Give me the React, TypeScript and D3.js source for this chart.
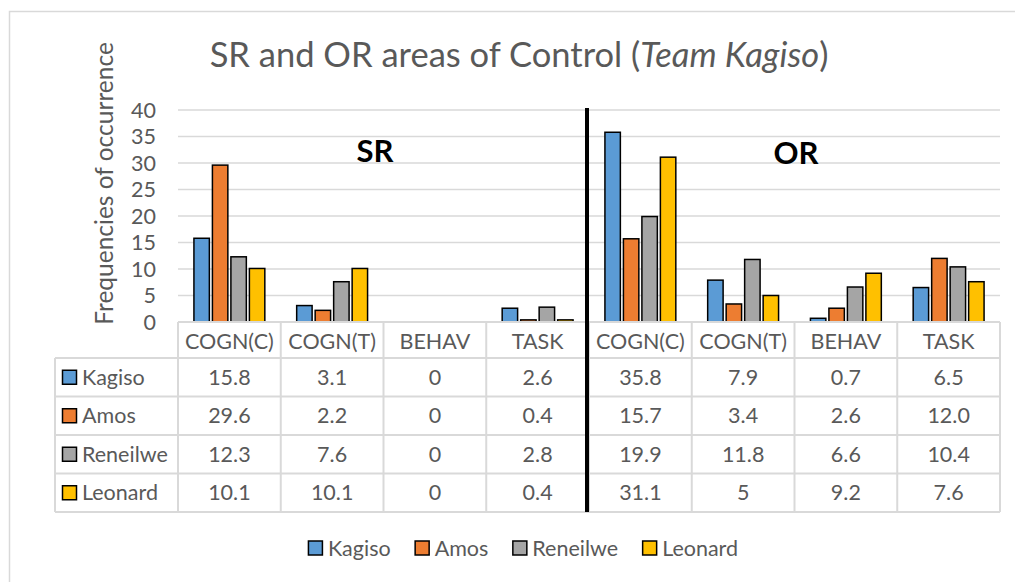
import React, { useEffect, useRef } from "react";
import * as d3 from "d3";

const categories = ["COGN(C)", "COGN(T)", "BEHAV", "TASK", "COGN(C)", "COGN(T)", "BEHAV", "TASK"];
const seriesNames = ["Kagiso", "Amos", "Reneilwe", "Leonard"];
const kagiso = [15.8, 3.1, 0, 2.6, 35.8, 7.9, 0.7, 6.5];
const amos = [29.6, 2.2, 0, 0.4, 15.7, 3.4, 2.6, 12.0];
const reneilwe = [12.3, 7.6, 0, 2.8, 19.9, 11.8, 6.6, 10.4];
const leonard = [10.1, 10.1, 0, 0.4, 31.1, 5, 9.2, 7.6];
const kagisoText = ["15.8", "3.1", "0", "2.6", "35.8", "7.9", "0.7", "6.5"];
const amosText = ["29.6", "2.2", "0", "0.4", "15.7", "3.4", "2.6", "12.0"];
const reneilweText = ["12.3", "7.6", "0", "2.8", "19.9", "11.8", "6.6", "10.4"];
const leonardText = ["10.1", "10.1", "0", "0.4", "31.1", "5", "9.2", "7.6"];
const yTicks = [0, 5, 10, 15, 20, 25, 30, 35, 40];
const colors = ["#5B9BD5", "#ED7D31", "#A5A5A5", "#FFC000"];

const FONT = "Lato, 'Open Sans', sans-serif";
const TXT = "#595959";
const GRID = "#d9d9d9";

export default function App() {
  const ref = useRef<SVGSVGElement>(null);

  useEffect(() => {
    const svg = d3.select(ref.current);
    svg.selectAll("*").remove();
    const values = [kagiso, amos, reneilwe, leonard];
    const texts = [kagisoText, amosText, reneilweText, leonardText];

    const left = 178, right = 1000, top = 110, bottom = 322;
    const x0 = d3.scaleBand<number>().domain(d3.range(categories.length)).range([left, right]);
    const bw = x0.bandwidth();
    const x1 = d3.scaleBand<number>().domain(d3.range(seriesNames.length)).range([bw * 0.155, bw * 0.845]).paddingInner(0.165);
    const y = d3.scaleLinear().domain([0, 40]).range([bottom, top]);

    // outer border
    svg.append("rect").attr("x", 9.5).attr("y", 11.5).attr("width", 1015).attr("height", 600)
      .attr("fill", "white").attr("stroke", GRID).attr("stroke-width", 1.5);

    // title
    const title = svg.append("text").attr("x", 519).attr("y", 67).attr("text-anchor", "middle")
      .attr("font-family", FONT).attr("font-size", 34.5).attr("fill", TXT);
    title.append("tspan").text("SR and OR areas of Control (");
    title.append("tspan").attr("font-style", "italic").text("Team Kagiso");
    title.append("tspan").text(")");

    // y axis label
    svg.append("text").attr("transform", `translate(113,${(325 + 42) / 2}) rotate(-90)`)
      .attr("text-anchor", "middle").attr("font-family", FONT).attr("font-size", 24.5).attr("fill", TXT)
      .text("Frequencies of occurrence");

    // gridlines
    svg.append("g").selectAll("line").data(yTicks.filter(t => t > 0)).join("line")
      .attr("x1", left).attr("x2", right).attr("y1", d => y(d)).attr("y2", d => y(d))
      .attr("stroke", GRID).attr("stroke-width", 1.6);

    // y tick labels
    svg.append("g").selectAll("text").data(yTicks).join("text")
      .attr("x", 156).attr("y", d => y(d)).attr("dy", "0.36em").attr("text-anchor", "end")
      .attr("font-family", FONT).attr("font-size", 21.5).attr("fill", TXT).text(d => String(d));

    // bars
    const gBars = svg.append("g");
    values.forEach((arr, s) => {
      gBars.append("g").selectAll("rect").data(arr.map((v, i) => ({ v, i }))).join("rect")
        .filter(d => d.v > 0)
        .attr("x", d => x0(d.i)! + x1(s)!)
        .attr("y", d => y(d.v))
        .attr("width", x1.bandwidth())
        .attr("height", d => y(0) - y(d.v))
        .attr("fill", colors[s]).attr("stroke", "#000").attr("stroke-width", 1.5);
    });

    // table
    const headerH = 36, rowH = 38.5;
    const tableLeft = 55;
    const rowsTop = bottom + headerH;
    const tableBottom = rowsTop + rowH * seriesNames.length;
    const gT = svg.append("g");
    gT.append("line").attr("x1", left).attr("x2", right).attr("y1", bottom).attr("y2", bottom)
      .attr("stroke", GRID).attr("stroke-width", 2);
    d3.range(seriesNames.length + 1).forEach(r => {
      gT.append("line").attr("x1", tableLeft).attr("x2", right)
        .attr("y1", rowsTop + r * rowH).attr("y2", rowsTop + r * rowH)
        .attr("stroke", GRID).attr("stroke-width", 2);
    });
    gT.append("line").attr("x1", tableLeft).attr("x2", tableLeft).attr("y1", rowsTop).attr("y2", tableBottom)
      .attr("stroke", GRID).attr("stroke-width", 2);
    d3.range(categories.length + 1).forEach(c => {
      const xx = c < categories.length ? x0(c)! : right;
      gT.append("line").attr("x1", xx).attr("x2", xx).attr("y1", bottom).attr("y2", tableBottom)
        .attr("stroke", GRID).attr("stroke-width", 2);
    });
    gT.append("g").selectAll("text").data(categories).join("text")
      .attr("x", (d, i) => x0(i)! + bw / 2).attr("y", bottom + headerH / 2 + 1).attr("dy", "0.36em")
      .attr("text-anchor", "middle").attr("font-family", FONT).attr("font-size", 21.5).attr("fill", TXT)
      .text(d => d);
    seriesNames.forEach((name, s) => {
      const cy = rowsTop + rowH * s + rowH / 2;
      gT.append("rect").attr("x", 62.5).attr("y", cy - 7).attr("width", 14).attr("height", 14)
        .attr("fill", colors[s]).attr("stroke", "#000").attr("stroke-width", 1.5);
      gT.append("text").attr("x", 82).attr("y", cy).attr("dy", "0.36em")
        .attr("font-family", FONT).attr("font-size", 21.5).attr("fill", TXT).text(name);
      gT.append("g").selectAll("text").data(texts[s]).join("text")
        .attr("x", (d, i) => x0(i)! + bw / 2).attr("y", cy).attr("dy", "0.36em")
        .attr("text-anchor", "middle").attr("font-family", FONT).attr("font-size", 21.5).attr("fill", TXT)
        .text(d => d);
    });

    // separator line between SR and OR
    const sepX = x0(4)! - 2;
    svg.append("line").attr("x1", sepX).attr("x2", sepX).attr("y1", 108).attr("y2", tableBottom)
      .attr("stroke", "#000").attr("stroke-width", 4);

    // SR / OR labels
    svg.append("text").attr("x", 375).attr("y", 162).attr("text-anchor", "middle")
      .attr("font-family", FONT).attr("font-weight", "bold").attr("font-size", 31).attr("fill", "#000").text("SR");
    svg.append("text").attr("x", 796).attr("y", 164).attr("text-anchor", "middle")
      .attr("font-family", FONT).attr("font-weight", "bold").attr("font-size", 31).attr("fill", "#000").text("OR");

    // legend
    const gL = svg.append("g");
    const items: { g: any; w: number }[] = [];
    seriesNames.forEach((name, s) => {
      const g = gL.append("g");
      g.append("rect").attr("x", 0.5).attr("y", -7).attr("width", 14).attr("height", 14)
        .attr("fill", colors[s]).attr("stroke", "#000").attr("stroke-width", 1.5);
      const t = g.append("text").attr("x", 20).attr("dy", "0.36em")
        .attr("font-family", FONT).attr("font-size", 21.5).attr("fill", TXT).text(name);
      const w = 20 + (t.node() as SVGTextElement).getComputedTextLength();
      items.push({ g, w });
    });
    const gap = 24;
    const total = d3.sum(items, d => d.w) + gap * (items.length - 1);
    let cx = 523 - total / 2;
    items.forEach(it => {
      it.g.attr("transform", `translate(${cx},548)`);
      cx += it.w + gap;
    });
  }, []);

  return (
    <svg ref={ref} width={1015} height={582}
      style={{ position: "absolute", left: 0, top: 0, background: "white" }} />
  );
}
